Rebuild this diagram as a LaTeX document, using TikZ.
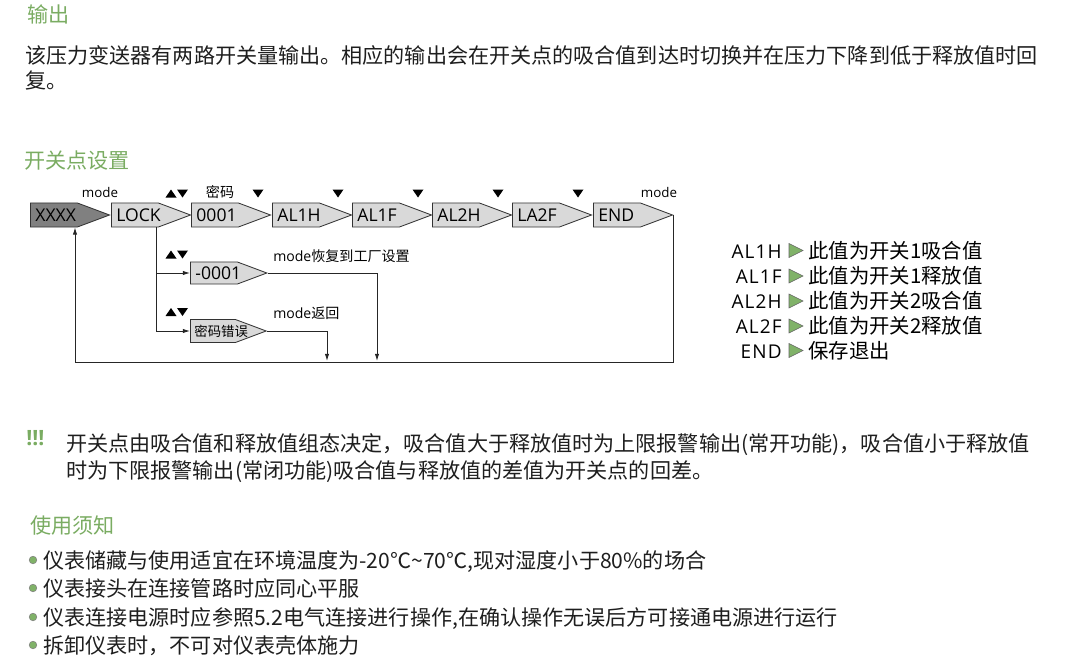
\documentclass[tikz,border=0pt]{standalone}
\usepackage{fontspec}
\setmainfont{Noto Sans CJK SC}
\newfontfamily\latin{Open Sans}
\newfontfamily\latinwide[LetterSpace=6]{Open Sans}
\usetikzlibrary{shapes.symbols,arrows.meta,calc}
\definecolor{headgreen}{RGB}{122,172,98}
\definecolor{markgreen}{RGB}{128,178,104}
\definecolor{boxgray}{RGB}{217,217,217}
\definecolor{darkbox}{RGB}{128,128,128}
\definecolor{txt}{RGB}{30,30,30}
\begin{document}
\begin{tikzpicture}[
    x=0.025cm, y=-0.025cm,
    every node/.style={inner sep=0pt, text=txt},
    heading/.style={font=\fontsize{15}{18}\selectfont, text=headgreen, anchor=base west},
    body/.style={font=\fontsize{15}{18.5}\selectfont, anchor=base west, align=left},
    flag/.style={signal, signal to=east, signal pointer angle=41, draw=black!80, fill=boxgray, line width=0.6pt,
        minimum height=0.6cm, inner xsep=0.125cm,
        execute at begin node={\hbox to 0.925cm\bgroup}, execute at end node={\hss\egroup},
        font=\latin\fontsize{12.5}{14}\selectfont, text=black},
    small/.style={font=\fontsize{10}{12}\selectfont, anchor=base, text=black},
    smalllat/.style={font=\latin\fontsize{9.5}{12}\selectfont, anchor=base, text=black},
    legend/.style={font=\fontsize{14.5}{17}\selectfont, anchor=base west, text=black},
    legendkey/.style={font=\latinwide\fontsize{13.5}{17}\selectfont, anchor=base east, text=black},
    line/.style={draw=black!85, line width=0.6pt},
    arr/.style={line, -{Latex[length=1.8mm,width=1.1mm]}},
    dn/.pic={\fill (-5.5,-4) -- (5.5,-4) -- (0,4) -- cycle;},
    up/.pic={\fill (-5.5,4) -- (5.5,4) -- (0,-4) -- cycle;},
    gtri/.pic={\filldraw[fill=markgreen, draw=black!60, line width=0.4pt] (-7,-7) -- (7,0) -- (-7,7) -- cycle;},
    bul/.pic={\filldraw[fill=markgreen, draw=black!50, line width=0.4pt] (0,0) circle (3.8);}
]
\useasboundingbox (0,0) rectangle (1080,670);

% -------------------------
% Output text
% -------------------------
    \node[heading] (h1) at (27,23) {输出};
    \node[body, font=\fontsize{15}{17.8}\selectfont] (p1) at (25,89) {该压力变送器有两路开关量输出。相应的输出会在开关点的吸合值到达时切换并在压力下降到低于释放值时回\\复。};

% -------------------------
% Switch point setting
% -------------------------
    \node[heading] (h2) at (24,168) {开关点设置};

    % top row
    \node[flag, fill=darkbox, anchor=west] (xxxx) at (30,215) {XXXX};
    \node[flag, anchor=west] (lock) at (111,215) {LOCK};
    \node[flag, anchor=west] (n0001) at (191,215) {0001};
    \node[flag, anchor=west] (al1h) at (272,215) {AL1H};
    \node[flag, anchor=west] (al1f) at (352,215) {AL1F};
    \node[flag, anchor=west] (al2h) at (432,215) {AL2H};
    \node[flag, anchor=west] (la2f) at (512,215) {LA2F};
    \node[flag, anchor=west] (endn) at (593,215) {END};

    % branches
    \node[flag, anchor=west, minimum height=0.55cm] (m0001) at (190,273) {-0001};
    \node[flag, anchor=west, minimum height=0.575cm, inner xsep=0.1cm, font=\fontsize{9.5}{11}\selectfont] (err) at (190,331) {密码错误};

    % keys and labels
    \node[smalllat] (lmode1) at (100,197) {mode};
    \node[small] (lpwd) at (220,197) {密码};
    \node[smalllat] (lmode2) at (659,197) {mode};
    \node[small, anchor=base west] (lfac) at (273,261) {{\latin mode}恢复到工厂设置};
    \node[small, anchor=base west] (lret) at (273,318) {{\latin mode}返回};

    \pic at (171,193.5) {up};
    \pic at (182.5,193.5) {dn};
    \foreach \kx in {258,338,418,498,578}
        \pic at (\kx,193.5) {dn};
    \pic at (171,254.5) {up};
    \pic at (182.5,254.5) {dn};
    \pic at (171,312) {up};
    \pic at (182.5,312) {dn};

    % connectors
    \coordinate (br) at (156,331);
    \coordinate (bl) at (75,362.5);
    \coordinate (r1) at (377,361);
    \coordinate (r2) at (327,361);
    \draw[line] (lock.south -| br) -- (br);
    \draw[arr] (m0001.west -| br) -- (m0001.west);
    \draw[arr] (br) -- (err.west);
    \draw[arr] (m0001.east) -| (r1);
    \draw[arr] (err.east) -| (r2);
    \draw[arr] (endn.east) |- (bl) -- (xxxx.south -| bl);

% -------------------------
% Legend
% -------------------------
    \foreach \ky/\kname/\ktext in {258/AL1H/此值为开关1吸合值, 283.5/AL1F/此值为开关1释放值,
                                   308.5/AL2H/此值为开关2吸合值, 333.5/AL2F/此值为开关2释放值,
                                   358/END/保存退出} {
        \node[legendkey] at (782,\ky) {\kname};
        \pic at (796,\ky-7.5) {gtri};
        \node[legend] at (808,\ky) {\ktext};
    }

% -------------------------
% Note
% -------------------------
    \node[heading, font=\latin\bfseries\fontsize{15}{18}\selectfont] (warn) at (26,445) {!!!};
    \node[body] (note) at (66,478) {开关点由吸合值和释放值组态决定，吸合值大于释放值时为上限报警输出(常开功能)，吸合值小于释放值\\时为下限报警输出(常闭功能)吸合值与释放值的差值为开关点的回差。};

% -------------------------
% Usage notes
% -------------------------
    \node[heading] (h3) at (30,533) {使用须知};
    \foreach \by in {560,588,617,645}
        \pic at (33,\by) {bul};
    \node[body] (b1) at (43,568) {仪表储藏与使用适宜在环境温度为-20℃\textasciitilde70℃,现对湿度小于80\%的场合};
    \node[body] (b2) at (43,596) {仪表接头在连接管路时应同心平服};
    \node[body] (b3) at (43,625) {仪表连接电源时应参照5.2电气连接进行操作,在确认操作无误后方可接通电源进行运行};
    \node[body] (b4) at (43,653) {拆卸仪表时，不可对仪表壳体施力};
\end{tikzpicture}
\end{document}
